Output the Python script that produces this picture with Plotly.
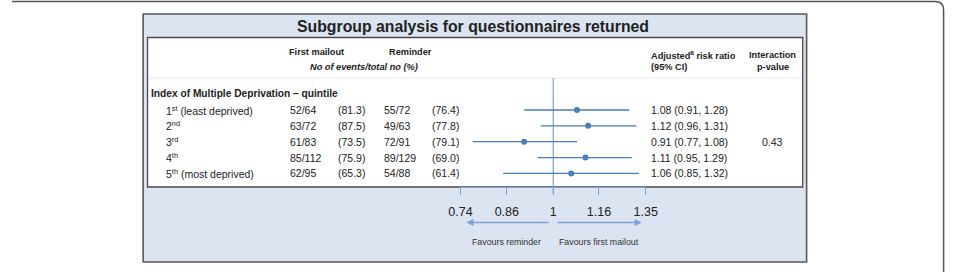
import math
import plotly.graph_objects as go

# ---------------- data ----------------
groups = ["1<sup>st</sup> (least deprived)", "2<sup>nd</sup>", "3<sup>rd</sup>",
          "4<sup>th</sup>", "5<sup>th</sup> (most deprived)"]
first_events = [52, 63, 61, 85, 62]
first_totals = [64, 72, 83, 112, 95]
first_pct = [81.3, 87.5, 73.5, 75.9, 65.3]
rem_events = [55, 49, 72, 89, 54]
rem_totals = [72, 63, 91, 129, 88]
rem_pct = [76.4, 77.8, 79.1, 69.0, 61.4]
rr = [1.08, 1.12, 0.91, 1.11, 1.06]
ci_lo = [0.91, 0.96, 0.77, 0.95, 0.85]
ci_hi = [1.28, 1.31, 1.08, 1.29, 1.32]
p_interaction = "0.43"
tick_vals = [0.74, 0.86, 1, 1.16, 1.35]
tick_text = ["0.74", "0.86", "1", "1.16", "1.35"]

# ---------------- layout helpers ----------------
W, H = 959, 272
def X(p): return p / W
def Y(p): return 1 - p / H

FONT = "Liberation Sans, Arial, Helvetica, sans-serif"
TXT = "#222222"
BLUE = "#4a7dbd"
LBLUE = "#7ba3d8"
PANEL = "#dbe4f0"

rows = list(range(len(groups)))
row0_px, row_step = 110.0, 15.85
y_top = -row0_px / row_step
y_bot = (H - row0_px) / row_step

fig = go.Figure()

# CI lines
xs, ys = [], []
for i in rows:
    xs += [ci_lo[i], ci_hi[i], None]
    ys += [i, i, None]
fig.add_trace(go.Scatter(x=xs, y=ys, mode="lines",
                         line=dict(color=BLUE, width=1.3),
                         hoverinfo="skip", showlegend=False))
# point estimates
fig.add_trace(go.Scatter(x=rr, y=rows, mode="markers",
                         marker=dict(color=BLUE, size=6),
                         showlegend=False))

shapes = []
# outer rounded frame (top + right)
shapes.append(dict(type="path", xref="paper", yref="paper",
                   path=f"M {X(0)},{Y(1.5)} L {X(947)},{Y(1.5)} Q {X(955.5)},{Y(1.5)} {X(955.5)},{Y(10)} L {X(955.5)},{Y(272)}",
                   line=dict(color="#555555", width=1.5), layer="below"))
# panel
shapes.append(dict(type="rect", xref="paper", yref="paper",
                   x0=X(134.5), x1=X(815), y0=Y(14), y1=Y(262),
                   fillcolor=PANEL, line=dict(color="#5a5a5a", width=1.6), layer="below"))
# white inner box
shapes.append(dict(type="rect", xref="paper", yref="paper",
                   x0=X(139), x1=X(811), y0=Y(37.5), y1=Y(187),
                   fillcolor="white", line=dict(color="#4a4a4a", width=1.3), layer="below"))
# header separator
shapes.append(dict(type="line", xref="paper", yref="paper",
                   x0=X(141), x1=X(809), y0=Y(78), y1=Y(78),
                   line=dict(color="#e6e6e6", width=1), layer="below"))
# null line at 1
shapes.append(dict(type="line", xref="x", yref="paper",
                   x0=1, x1=1, y0=Y(78), y1=Y(194),
                   line=dict(color=LBLUE, width=1.2), layer="below"))

ann = []
def text(x, y, s, size=10.5, anchor="left", bold=False, italic=False, yref="paper", color=TXT):
    ann.append(dict(x=x, y=y, xref="paper", yref=yref, text=s, showarrow=False,
                    xanchor=anchor, yanchor="middle",
                    font=dict(family=FONT, size=size, color=color,
                              weight="bold" if bold else "normal",
                              style="italic" if italic else "normal")))

text(X(473), Y(26.5), "Subgroup analysis for questionnaires returned", size=15.8, anchor="center", bold=True)
text(X(312), Y(52), "First mailout", size=9.2, anchor="center", bold=True)
text(X(408.5), Y(52), "Reminder", size=9.2, anchor="center", bold=True)
text(X(361), Y(67), "No of events/total no (%)", size=9.2, anchor="center", bold=True, italic=True)
text(X(653), Y(55), "Adjusted<sup>a</sup> risk ratio", size=9.2, bold=True)
text(X(653), Y(67), "(95% CI)", size=9.2, bold=True)
text(X(780.5), Y(55), "Interaction", size=9.2, anchor="center", bold=True)
text(X(780.5), Y(67), "p-value", size=9.2, anchor="center", bold=True)
text(X(141), Y(93.5), "Index of Multiple Deprivation – quintile", size=10.2, bold=True)

for i in rows:
    text(X(155.5), i, groups[i], yref="y")
    text(X(283), i, f"{first_events[i]}/{first_totals[i]}", yref="y")
    text(X(332), i, f"({first_pct[i]:.1f})", yref="y")
    text(X(380), i, f"{rem_events[i]}/{rem_totals[i]}", yref="y")
    text(X(429), i, f"({rem_pct[i]:.1f})", yref="y")
    text(X(653), i, f"{rr[i]:.2f} ({ci_lo[i]:.2f}, {ci_hi[i]:.2f})", yref="y")
text(X(780.5), rows[len(rows) // 2], p_interaction, anchor="center", yref="y")

# favours arrows
for tip, tail in [(466, 550), (646, 560)]:
    ann.append(dict(x=X(tip), y=Y(222.5), xref="paper", yref="paper",
                    ax=tail - tip, ay=0, axref="pixel", ayref="pixel",
                    text="", showarrow=True, arrowhead=2, arrowsize=1.1,
                    arrowwidth=1.3, arrowcolor=LBLUE))
text(X(507), Y(242), "Favours reminder", size=8.8, anchor="center", color="#333333")
text(X(602), Y(242), "Favours first mailout", size=8.8, anchor="center", color="#333333")

fig.update_layout(
    width=W, height=H, margin=dict(l=0, r=0, t=0, b=0), autosize=False,
    paper_bgcolor="white", plot_bgcolor="rgba(0,0,0,0)",
    shapes=shapes, annotations=ann, showlegend=False,
    xaxis=dict(type="log", domain=[X(460), X(650)],
               range=[math.log10(tick_vals[0]), math.log10(tick_vals[-1])],
               tickvals=tick_vals, ticktext=tick_text,
               anchor="free", position=Y(187),
               showline=True, linecolor=LBLUE, linewidth=1,
               ticks="outside", ticklen=7, tickwidth=1.2, tickcolor=LBLUE,
               showgrid=False, zeroline=False, ticklabelstandoff=6,
               tickfont=dict(family=FONT, size=12.5, color=TXT)),
    yaxis=dict(domain=[0, 1], range=[y_bot, y_top], visible=False,
               showgrid=False, zeroline=False),
)

fig.write_html("out.html", config={"responsive": False, "displayModeBar": False})
